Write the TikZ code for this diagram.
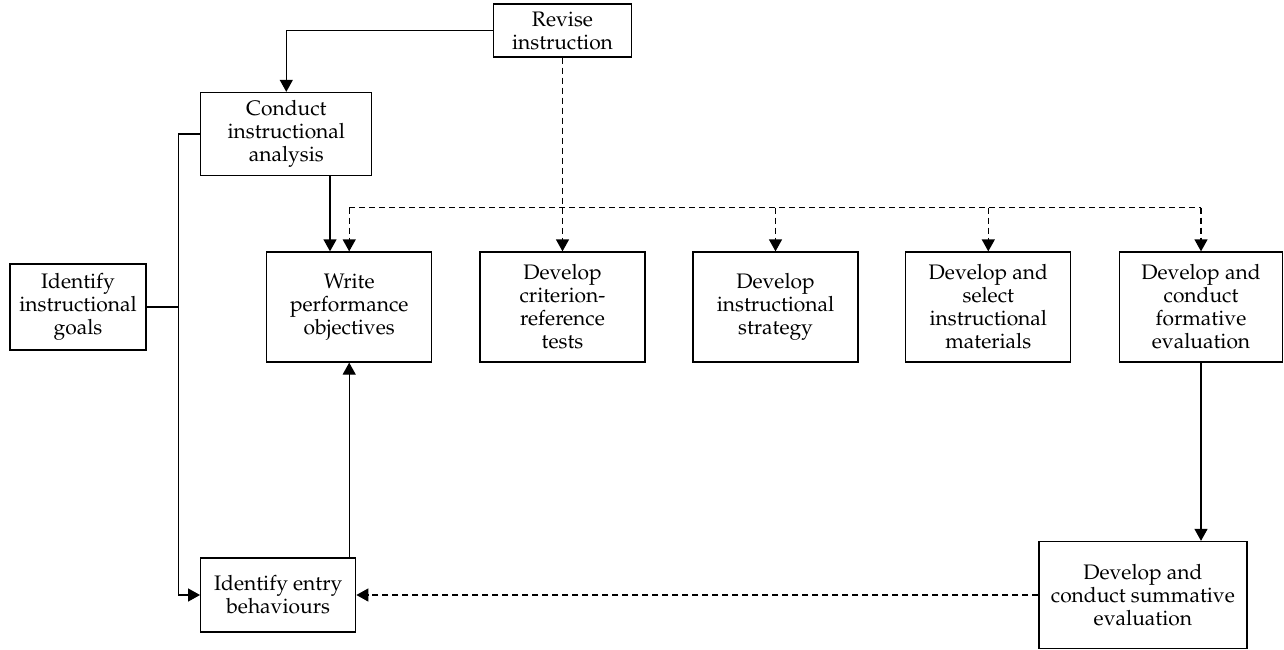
\documentclass[tikz,border=0pt]{standalone}
\usepackage[T1]{fontenc}
\usepackage{mathpazo}
\usetikzlibrary{arrows.meta,calc}

\tikzset{
  box/.style={draw, line width=1.3pt, inner sep=0pt, align=center,
    font=\fontsize{21}{23}\selectfont},
  conn/.style={line width=1.3pt, -{Triangle[length=12pt,width=13pt]}},
  dconn/.style={conn, dash pattern=on 6pt off 4pt},
  plain/.style={line width=1.3pt},
  dplain/.style={plain, dash pattern=on 6pt off 4pt},
}

\begin{document}
\begin{tikzpicture}[x=1pt, y=-1pt]
\useasboundingbox (0,0) rectangle (1284,650);

% boxes
\node[box, minimum width=138pt, minimum height=53pt] (rev) at (562.5,30.6) {Revise\\instruction};
\node[box, minimum width=171pt, minimum height=83pt] (cia) at (286.3,134) {Conduct\\instructional\\analysis};
\node[box, minimum width=136pt, minimum height=86pt] (goals) at (78,307) {Identify\\instructional\\goals};
\node[box, minimum width=165pt, minimum height=110pt] (wpo) at (349.2,307) {Write\\performance\\objectives};
\node[box, minimum width=165pt, minimum height=110pt] (crt) at (562.5,307) {Develop\\criterion-\\reference\\tests};
\node[box, minimum width=165pt, minimum height=110pt] (strat) at (775.5,307) {Develop\\instructional\\strategy};
\node[box, minimum width=165pt, minimum height=110pt] (mat) at (988.3,307) {Develop and\\select\\instructional\\materials};
\node[box, minimum width=163pt, minimum height=110pt] (form) at (1201,307) {Develop and\\conduct\\formative\\evaluation};
\node[box, minimum width=155pt, minimum height=74pt] (entry) at (278.2,595) {Identify entry\\behaviours};
\node[box, minimum width=208pt, minimum height=107pt] (summ) at (1142.9,595) {Develop and\\conduct summative\\evaluation};

% helper points
\coordinate (bus) at (0,207.7);
\coordinate (bx) at (178.3,400);
\coordinate (ciaarrow) at (330,0);

% revise instruction feeds back into the analysis and the tests
\draw[conn] (rev.west) -| (cia.north);
\draw[dconn] (rev.south) -- (crt.north);

% analysis to objectives
\draw[conn] (cia.south -| ciaarrow) -- (wpo.north -| ciaarrow);

% dashed revision bus along the top of the row
\draw[dplain] (wpo.north |- bus) -- (form.north |- bus);
\draw[dconn] (wpo.north |- bus) -- (wpo.north);
\draw[dconn] (strat.north |- bus) -- (strat.north);
\draw[dconn] (mat.north |- bus) -- (mat.north);
\draw[dconn] (form.north |- bus) -- (form.north);

% goals bracket down to entry behaviours
\draw[conn] (cia.west) -| (bx) |- (entry.west);
\draw[plain] (goals.east) -- (goals.east -| bx);

% entry behaviours up to objectives
\draw[conn] (entry.north -| wpo.south) -- (wpo.south);

% formative to summative, summative back to entry
\draw[conn] (form.south) -- (form.south |- summ.north);
\draw[dconn] (summ.west) -- (entry.east);
\end{tikzpicture}
\end{document}
